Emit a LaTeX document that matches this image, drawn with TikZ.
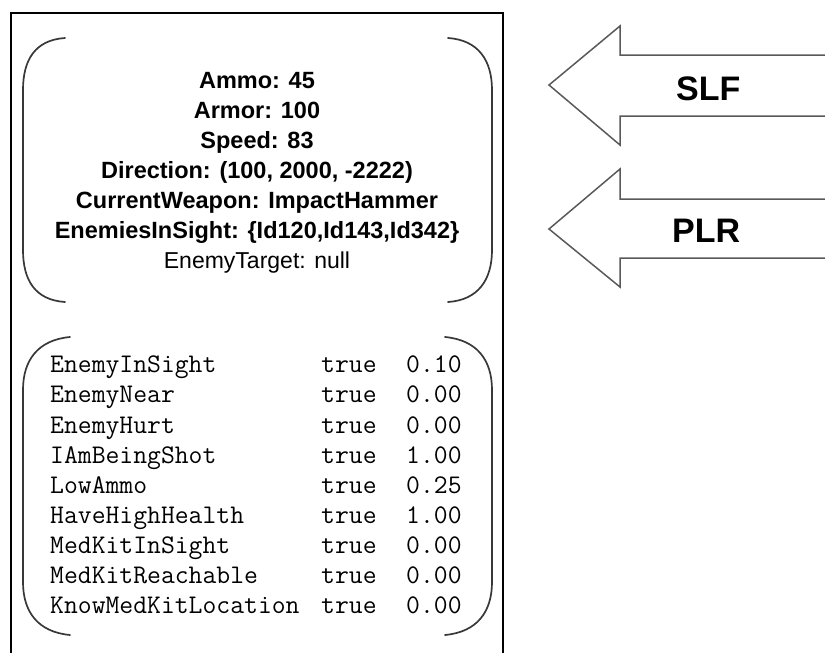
\documentclass[tikz,border=0pt]{standalone}
\usepackage{fontspec}
\setmainfont{Liberation Sans}
\begin{document}
\begin{tikzpicture}[x=1pt,y=-1pt,
  frame/.style={draw=black,line width=1.3pt},
  brk/.style={draw=black!78,line width=1.7pt,line cap=round},
  blk/.style={draw=black!65,line width=1.5pt,line join=miter},
  toptxt/.style={anchor=base,inner sep=0pt,font=\fontsize{23.5}{28}\selectfont\bfseries},
  regtxt/.style={anchor=base,inner sep=0pt,font=\fontsize{23}{28}\selectfont},
  mono/.style={anchor=base west,inner sep=0pt,font=\fontsize{26.9}{30}\selectfont\ttfamily},
  lbl/.style={anchor=base west,inner sep=0pt,font=\fontsize{34}{40}\selectfont\bfseries}]
\useasboundingbox (0,0) rectangle (825,653);
% outer frame (bottom edge lies below the picture)
\draw[frame] (11,665) -- (11,13) -- (503,13) -- (503,665);
% top brackets
\draw[brk] (65,38) .. controls (35,40) and (23,60) .. (23,90) -- (23,250)
  .. controls (23,280) and (35,300) .. (65,302);
\draw[brk] (448,38) .. controls (478,40) and (492,60) .. (492,90) -- (492,250)
  .. controls (492,280) and (478,300) .. (448,302);
% bottom brackets
\draw[brk] (70,337) .. controls (38,340) and (23,360) .. (23,390) -- (23,582)
  .. controls (23,612) and (38,632) .. (70,635);
\draw[brk] (445,337) .. controls (477,340) and (492,360) .. (492,390) -- (492,582)
  .. controls (492,612) and (477,632) .. (445,635);
% top text
\node[toptxt] (t1) at (257,88) {Ammo: 45};
\node[toptxt] (t2) at (257,118) {Armor: 100};
\node[toptxt] (t3) at (257,148) {Speed: 83};
\node[toptxt] (t4) at (257,178) {Direction: (100, 2000, -2222)};
\node[toptxt] (t5) at (257,208) {CurrentWeapon: ImpactHammer};
\node[toptxt] (t6) at (257,238) {EnemiesInSight: \{Id120,Id143,Id342\}};
\node[regtxt] (t7) at (257,268) {EnemyTarget: null};
% table
\foreach \n/\v [count=\i from 0] in {EnemyInSight/0.10,EnemyNear/0.00,EnemyHurt/0.00,IAmBeingShot/1.00,LowAmmo/0.25,HaveHighHealth/1.00,MedKitInSight/0.00,MedKitReachable/0.00,KnowMedKitLocation/0.00}{
  \node[mono] (n\i) at (50,372.7+30.15*\i) {\n};
  \node[mono] (b\i) at (321,372.7+30.15*\i) {true};
  \node[mono] (v\i) at (406,372.7+30.15*\i) {\v};
}
% block arrows
\draw[blk] (830,55) -- (620,55) -- (620,26) -- (549,85) -- (620,145) -- (620,116) -- (830,116);
\draw[blk] (830,199) -- (620,199) -- (620,169) -- (549,229) -- (620,287) -- (620,258) -- (830,258);
\node[lbl] (slf) at (676,100) {SLF};
\node[lbl] (plr) at (672,242) {PLR};
\end{tikzpicture}
\end{document}
